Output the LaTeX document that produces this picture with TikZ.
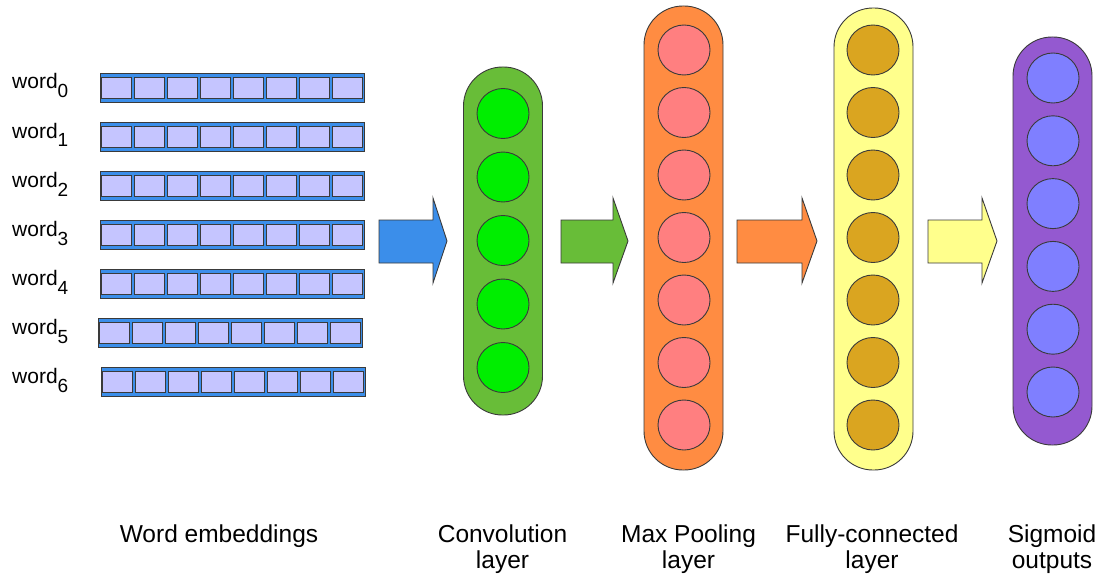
\documentclass[tikz,border=0pt]{standalone}
\usepackage{fontspec}
\setmainfont{Liberation Sans}
\usetikzlibrary{shapes.geometric,calc}

\definecolor{edge}{HTML}{3A3A3A}
\definecolor{embblue}{HTML}{3B8EEA}
\definecolor{celllav}{HTML}{C5C5FF}
\definecolor{convgreen}{HTML}{68BD38}
\definecolor{neurongreen}{HTML}{00EE00}
\definecolor{poolorange}{HTML}{FF8C42}
\definecolor{neuronpink}{HTML}{FF7F80}
\definecolor{fcyellow}{HTML}{FFFF8C}
\definecolor{neurongold}{HTML}{DAA520}
\definecolor{sigpurple}{HTML}{9459D0}
\definecolor{neuronblue}{HTML}{7F7FFF}

% wide block arrow between two layers: start x, head base x, tip x, fill colour
\newcommand\flowarrow[4]{%
  \draw[arrowline, fill=#4] (#1,220) -- (#2,220) -- (#2,198) -- (#3,241)
    -- (#2,283) -- (#2,263) -- (#1,263) -- cycle;}
\newcommand\wsub[1]{\raisebox{-9pt}{\fontsize{19}{19}\selectfont #1}}

\begin{document}
\begin{tikzpicture}[x=1pt,y=-1pt,
  arrowline/.style={draw=edge, line width=0.9pt, line join=miter},
  embbar/.style={draw=edge, line width=0.9pt, fill=embblue,
    minimum width=264pt, minimum height=29pt, inner sep=0pt},
  cell/.style={draw=edge, line width=0.8pt, fill=celllav,
    minimum width=30pt, minimum height=21pt, inner sep=0pt},
  wordlbl/.style={font=\fontsize{21}{21}\selectfont, inner sep=0pt},
  capsule/.style={draw=edge, line width=0.9pt, rounded corners=39pt,
    minimum width=79pt, inner sep=0pt},
  neuron/.style={ellipse, draw=edge, line width=0.9pt,
    minimum width=52pt, minimum height=50pt, inner sep=0pt},
  caption/.style={font=\fontsize{24.5}{26}\selectfont, align=center,
    anchor=base, inner sep=0pt}]
\useasboundingbox (0,0) rectangle (1099,575);

% word embedding rows
\foreach \i/\y/\dx in {0/88/0,1/137/0,2/186/0,3/235/0,4/284/0,5/333/-2,6/382/1} {
  \node[embbar] (w\i) at (232+\dx,\y) {};
  \foreach \c in {0,...,7}
    \node[cell] (w\i-\c) at ($(w\i.west)+(16.5+33*\c,0)$) {};
  \node[wordlbl, anchor=base west] (lbl\i) at (12,\y+1) {word\wsub{\i}};
}

% convolution layer
\node[capsule, fill=convgreen, minimum height=348pt] (conv) at (503,241) {};
\foreach \k in {0,...,4}
  \node[neuron, fill=neurongreen] (conv\k) at (503,113.5+63.5*\k) {};

% max pooling layer
\node[capsule, fill=poolorange, minimum height=464pt] (pool) at (683.5,238) {};
\foreach \k in {0,...,6}
  \node[neuron, fill=neuronpink] (pool\k) at (684,50+62.5*\k) {};

% fully-connected layer
\node[capsule, fill=fcyellow, minimum height=462pt] (fc) at (873.5,239) {};
\foreach \k in {0,...,6}
  \node[neuron, fill=neurongold] (fc\k) at (873,50+62.5*\k) {};

% sigmoid outputs
\node[capsule, fill=sigpurple, minimum height=408pt] (sig) at (1052.5,241) {};
\foreach \k in {0,...,5}
  \node[neuron, fill=neuronblue] (sig\k) at (1053,78+62.8*\k) {};

% arrows between stages
\flowarrow{379}{433}{447}{embblue}
\flowarrow{561}{613}{628}{convgreen}
\flowarrow{737}{802}{817}{poolorange}
\flowarrow{928}{982}{997}{fcyellow}

% captions (base anchor sits on the last line)
\node[caption] (capEmb) at (219,542) {Word embeddings};
\node[caption] (capConv) at (502.5,568) {Convolution\\layer};
\node[caption] (capPool) at (688.5,568) {Max Pooling\\layer};
\node[caption] (capFc) at (872,568) {Fully-connected\\layer};
\node[caption] (capSig) at (1052,568) {Sigmoid\\outputs};
\end{tikzpicture}
\end{document}
